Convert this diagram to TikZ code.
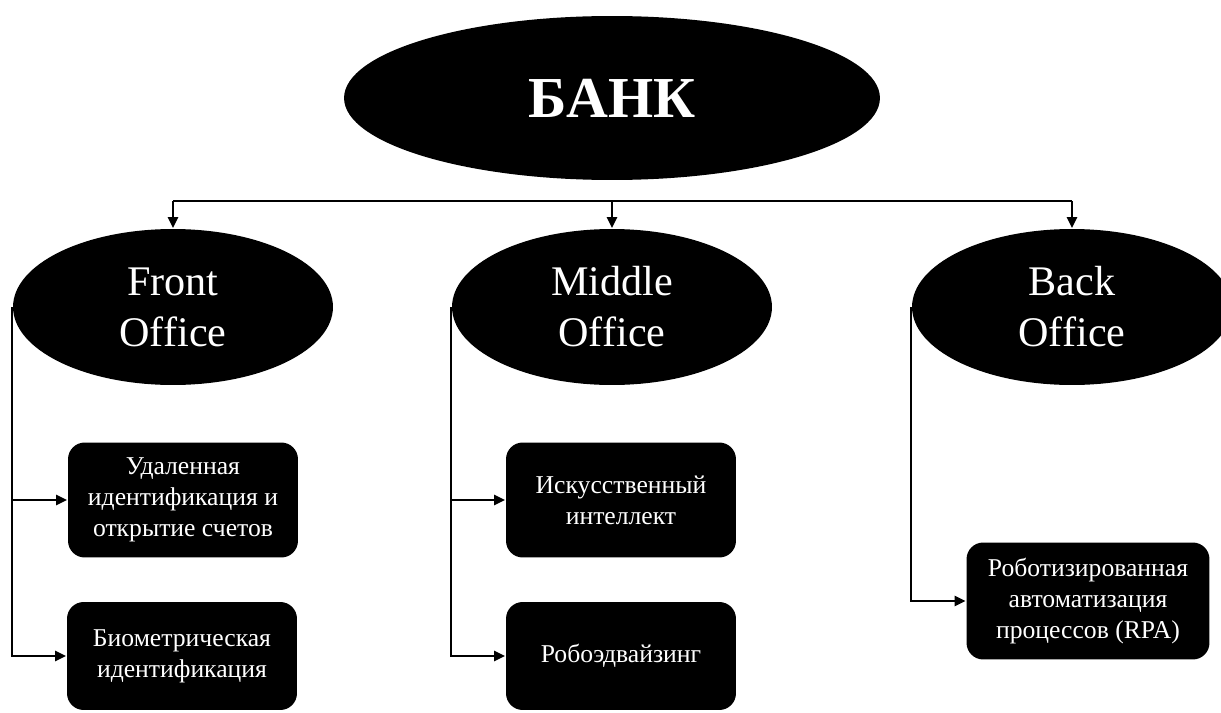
\documentclass[tikz,border=0pt]{standalone}
\usepackage{fontspec}
\setmainfont{Liberation Serif}
\usetikzlibrary{arrows.meta,shapes.geometric}

\begin{document}
\begin{tikzpicture}[x=0.02cm,y=-0.02cm,->,>={Triangle[length=6.2pt,width=5.8pt]},line width=1.1pt,
    bank node/.style={ellipse,fill=black,text=white,minimum width=10.72cm,minimum height=3.28cm,font=\fontsize{33}{38}\selectfont\bfseries},
    office node/.style={ellipse,fill=black,text=white,minimum width=6.4cm,minimum height=3.12cm,align=center,font=\fontsize{24}{29}\selectfont},
    task node/.style={rectangle,rounded corners=9.5pt,fill=black,text=white,minimum width=4.6cm,minimum height=2.3cm,align=center,font=\fontsize{14.6}{17.5}\selectfont}]

  \useasboundingbox (0,0) rectangle (1221,713);
  \clip (0,0) rectangle (1221,713);

  \node[bank node]   (bank) at (612,98)  {БАНК};
  \node[office node] (fo)   at (173,307) {Front\\Office};
  \node[office node] (mo)   at (612,307) {Middle\\Office};
  \node[office node] (bo)   at (1072,307) {Back\\Office};

  \node[task node]                      (fo1) at (183,500) {Удаленная\\идентификация и\\открытие счетов};
  \node[task node,minimum height=2.16cm] (fo2) at (182,656) {Биометрическая\\идентификация};
  \node[task node]                      (mo1) at (621,500) {Искусственный\\интеллект};
  \node[task node,minimum height=2.16cm] (mo2) at (621,656) {Робоэдвайзинг};
  \node[task node,minimum width=4.86cm,minimum height=2.34cm] (bo1) at (1088,601) {Роботизированная\\автоматизация\\процессов (RPA)};

  \coordinate (bus) at (612,201);
  \draw[-] (bus -| fo.north) -- (bus -| bo.north);
  \foreach \n in {fo,mo,bo}
    \draw (bus -| \n.north) -- (\n.north);

  \draw (fo.west) |- (fo1.west);
  \draw (fo.west) |- (fo2.west);
  \draw (mo.west) |- (mo1.west);
  \draw (mo.west) |- (mo2.west);
  \draw (bo.west) |- (bo1.west);

\end{tikzpicture}
\end{document}
